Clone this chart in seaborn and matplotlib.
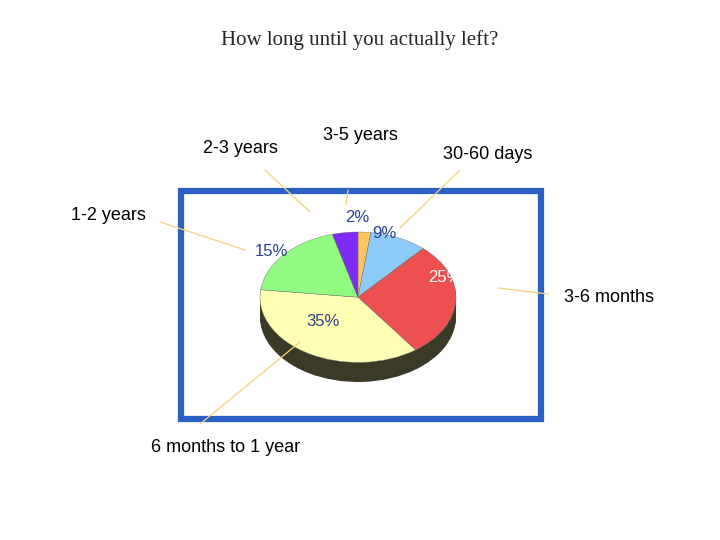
import matplotlib
matplotlib.use("Agg")
import matplotlib.pyplot as plt
from matplotlib.patches import Rectangle
from matplotlib.lines import Line2D
import seaborn as sns

sns.set_theme(style="white")
plt.rcParams['font.family'] = ['Liberation Sans', 'DejaVu Sans']

# slices clockwise from 12 o'clock
categories = ["3-5 years", "30-60 days", "3-6 months", "6 months to 1 year", "1-2 years", "2-3 years"]
values = [2, 9, 27, 35, 18, 4]
pct_labels = ["2%", "9%", "25%", "35%", "15%", ""]
colors = ["#fdc460", "#8ecaf8", "#ec5050", "#ffffb3", "#90fb80", "#7e2bf5"]

W, H = 720, 540
fig = plt.figure(figsize=(7.2, 5.4), dpi=100)

def fx(x):
    return x / W

def fy(y):
    return 1 - y / H

fig.text(0.5, fy(40), "How long until you actually left?", ha="center", va="center",
         fontsize=15, family="Liberation Serif")

# blue frame
fig.patches.append(Rectangle((fx(181), fy(419)), fx(541) - fx(181), fy(191) - fy(419),
                             transform=fig.transFigure, fill=False, ec="#2a5fc4", lw=4.5))

# pie axes: top face ellipse rx 98 px, ry 65 px, depth 20 px
ax = fig.add_axes([fx(260), fy(382), 196 / W, 150 / H])
ax.axis("off")
for i in range(16):
    off = -0.3 + 0.3 * i / 16
    ax.pie(values, startangle=90, counterclock=False, colors=["#3b3a26"] * len(values),
           center=(0, off), radius=1, wedgeprops=dict(lw=0))
ax.pie(values, startangle=90, counterclock=False, colors=colors, center=(0, 0), radius=1,
       wedgeprops=dict(lw=0.3, ec="#777777"))
ax.set_aspect("auto")
ax.set_xlim(-1, 1)
ax.set_ylim(-1.3, 1)

# percent labels
pct_pos = [(357, 217), (384, 234), (445, 278), (323, 321), (271, 251), (0, 0)]
for txt, (x, y), c in zip(pct_labels, pct_pos, colors):
    if txt:
        col = "white" if txt == "25%" else "#2b3f8f"
        fig.text(fx(x), fy(y), txt, ha="center", va="center", fontsize=12, color=col)

# outer labels and leader lines
label_pos = [(360, 135), (488, 155), (609, 298), (226, 448), (108, 215), (240, 148)]
lines = [((348, 190), (346, 205)), ((460, 170), (400, 228)), ((498, 288), (548, 294)),
         ((200, 424), (300, 342)), ((160, 222), (245, 250)), ((265, 170), (310, 212))]
for name, (x, y) in zip(categories, label_pos):
    fig.text(fx(x), fy(y), name, ha="center", va="center", fontsize=13, color="black")
for (x0, y0), (x1, y1) in lines:
    fig.lines.append(Line2D([fx(x0), fx(x1)], [fy(y0), fy(y1)], transform=fig.transFigure,
                            color="#f5d27a", lw=0.9))

fig.savefig("out.png", dpi=100)
